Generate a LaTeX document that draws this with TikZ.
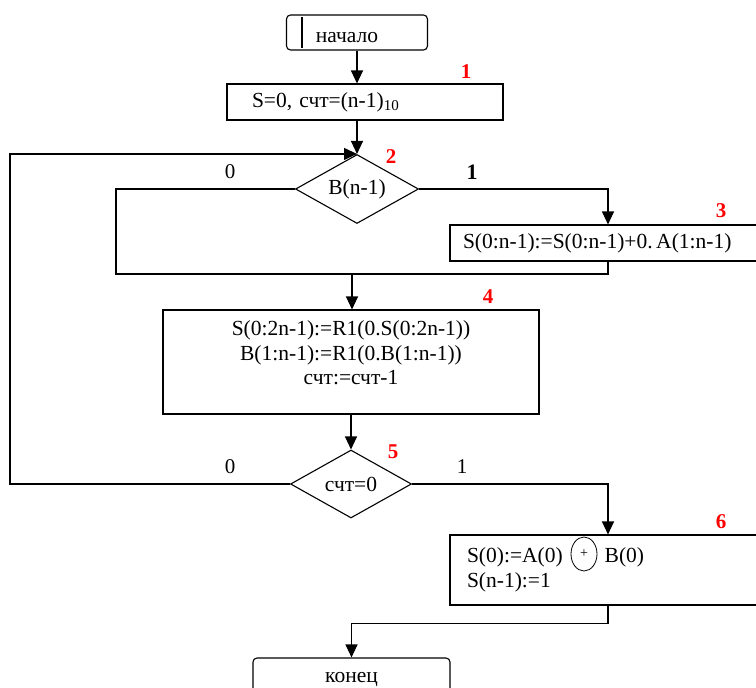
\documentclass[tikz,border=0pt]{standalone}
\usepackage{fontspec}
\setmainfont{Liberation Serif}
\usetikzlibrary{arrows.meta,shapes.geometric}

\begin{document}
\begin{tikzpicture}[x=1pt, y=-1pt, >={Triangle[length=13pt,width=12pt]}, line width=1.1pt, font=\fontsize{21.5}{24.5}\selectfont]
		\tikzset{block/.style={draw, rectangle, inner sep=0pt},
			term/.style={draw, rectangle, rounded corners=4pt, inner sep=0pt},
			cond/.style={draw, diamond, inner sep=0pt},
			num/.style={text=red, font=\fontsize{21}{21}\selectfont\bfseries},
			branch/.style={font=\fontsize{21}{21}\selectfont}}
		\useasboundingbox (0,0) rectangle (756,688);
		\node[term, minimum width=141pt, minimum height=35pt] (start) at (357,32.5) {};
		\draw[line width=1.8pt] ([shift={(16pt,-3pt)}]start.north west) -- ([shift={(16pt,3pt)}]start.south west);
		\node (startlbl) at (347,38) {начало};
		\node[block, minimum width=276pt, minimum height=36pt, text width=226pt, align=left] (init) at (365,102) {S=0, счт=(n-1)\textsubscript{10}};
		\node[cond, minimum width=123pt, minimum height=69pt] (d2) at (357,189) {};
		\node (d2lbl) at (d2.center) {B(n-1)};
		\node[block, minimum width=316pt, minimum height=36pt, text width=290pt, align=left] (box3) at (608,243) {S(0:n-1):=S(0:n-1)+0.\,A(1:n-1)};
		\node[block, minimum width=376pt, minimum height=104pt, align=center] (box4) at (351,362) {S(0:2n-1):=R1(0.S(0:2n-1))\\B(1:n-1):=R1(0.B(1:n-1))\\счт:=счт-1\vphantom{p}\\[-6pt]};
		\node[cond, minimum width=121pt, minimum height=68pt] (d5) at (351,484) {};
		\node (d5lbl) at (d5.center) {счт=0};
		\node[block, minimum width=316pt, minimum height=70pt, text width=282pt, align=left] (box6) at (608,570) {S(0):=A(0)\hspace{42pt}B(0)\\S(n-1):=1};
		\node[draw, ellipse, minimum width=26pt, minimum height=34pt, inner sep=0pt, line width=0.8pt, font=\fontsize{14}{14}\selectfont] (xor) at (584,554) {+};
		\node[term, minimum width=197pt, minimum height=44pt] (end) at (351.5,680) {конец};
		\coordinate (loopL) at (116,274);
		\coordinate (join) at (352,274);
		\coordinate (loopBL) at (10,484);
		\draw[->] (start.south) -- (start.south |- init.north);
		\draw[->] (init.south -| d2.north) -- (d2.north);
		\draw[->] (d2.east) -| (box3.north);
		\draw (d2.west) -| (loopL) -| (box3.south);
		\draw[->] (join) -- (join |- box4.north);
		\draw[->] (box4.south) -- (d5.north);
		\draw[->] (d5.west) -- (loopBL) |- (d2.north);
		\draw[->] (d5.east) -| (box6.north);
		\draw[->] (box6.south) -- ++(0,18) -| (end.north);
		\node[num] (n1) at (466,72) {1};
		\node[num] (n2) at (391,157) {2};
		\node[num] (n3) at (721,211) {3};
		\node[num] (n4) at (488,297) {4};
		\node[num] (n5) at (393,452) {5};
		\node[num] (n6) at (721,522) {6};
		\node[branch] (b20) at (230,172) {0};
		\node[branch, font=\fontsize{22}{22}\selectfont\bfseries] (b21) at (472,172) {1};
		\node[branch] (b50) at (230,467) {0};
		\node[branch] (b51) at (462,467) {1};
	\end{tikzpicture}
\end{document}
